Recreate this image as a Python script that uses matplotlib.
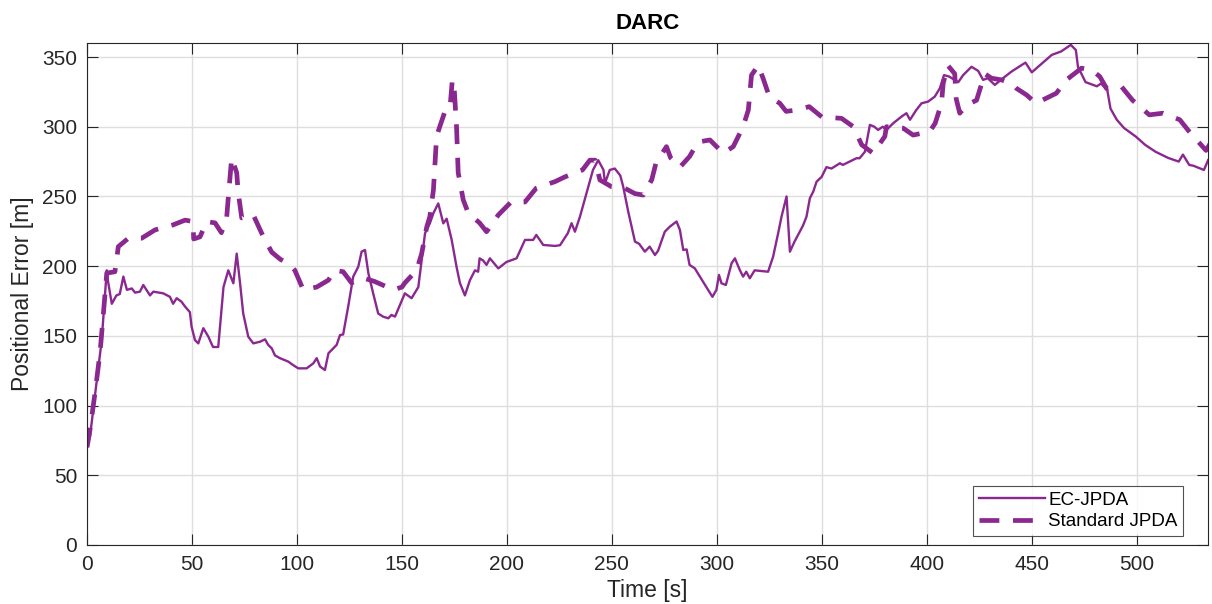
import matplotlib
matplotlib.use("Agg")
import matplotlib.pyplot as plt

# EC-JPDA positional error (time [s], error [m])
ec_time = [0, 1.4, 4, 7, 9.4, 9.9, 11.8, 14, 15.6, 17.3, 19, 21.3, 22.9, 25.2, 26.8, 30, 31.6,
           36.3, 39.5, 41, 42.7, 45, 46.7, 49, 49.8, 51.4, 53, 55.4, 57.8, 60, 62.5, 65, 67.3,
           69.7, 71.3, 72.9, 74.4, 76.8, 79.2, 82.4, 84.8, 86.3, 88, 89.5, 91.9, 95.9, 98.2,
           100.6, 104.6, 107.8, 109.4, 111, 113.3, 115, 117.3, 118.9, 120.5, 122, 124.4, 126.8,
           129.2, 130.8, 132.4, 134, 136.3, 138.7, 141, 143.5, 145, 146.7, 149, 151.4, 154.6,
           157.8, 159.4, 161, 163.3, 165, 167.3, 169.7, 171.3, 173.7, 176, 177.6, 180, 182.4,
           184.8, 186.3, 187, 188.7, 190.3, 191.9, 195.9, 199.8, 204.6, 208.6, 212.5, 214,
           217.3, 222.9, 225.3, 229, 230.8, 232.4, 234.8, 237.9, 241, 243.5, 246, 246.7, 249,
           251.4, 254, 255.4, 257.8, 261, 263, 265.7, 268, 270.5, 272, 275.2, 277.6, 280.8,
           282.4, 284, 285.6, 287, 289.5, 291.9, 295, 297.9, 299.8, 301, 302.2, 304.3, 307,
           308.6, 311, 312.5, 314, 315.7, 318, 324.4, 326.8, 329.2, 330.8, 333.2, 334.8, 337,
           339.5, 341, 342.7, 344.3, 345.9, 347.5, 349.9, 352.2, 354.6, 358.6, 360, 366.5, 368,
           370.5, 372.9, 375, 376.8, 379, 380.8, 384, 388, 390.3, 392, 395, 397.5, 400.6, 403.8,
           406.2, 408.2, 410.6, 415, 417.3, 421.3, 424.5, 426.8, 429, 432.4, 436.3, 440.3, 447,
           450, 459.5, 464, 468.6, 471, 472, 475.6, 481, 483, 486, 487.5, 490.5, 494, 499.5,
           504, 509, 515, 520, 522, 525, 527, 532, 534]
ec_err = [72, 77.7, 110, 147, 197, 190, 173, 179, 180, 192.5, 183, 184, 181, 181.7, 186.5, 179,
          181.7, 180.5, 178, 173, 177, 174.5, 171, 167, 156.6, 147, 144.6, 155.5, 149.4, 142, 142,
          185, 197, 187.7, 209, 187.7, 166, 149.4, 144.6, 145.8, 147.5, 143.5, 141, 136, 134,
          131.5, 129, 126.7, 126.7, 130.3, 134, 128, 125.5, 137.5, 141, 143.5, 150.6, 151, 171,
          192.5, 199.6, 210.4, 211.6, 195, 180.5, 166, 163.8, 162.6, 165, 163.8, 172, 180.5, 177,
          185, 204, 223.6, 230.7, 238, 245, 230.7, 234, 218.8, 199.6, 188, 179, 190, 197, 196,
          205.6, 204, 200.9, 205.6, 198.4, 203, 205.6, 218.8, 218.8, 222.4, 215.2, 214.5, 215,
          223.6, 230.8, 224.7, 235.5, 252.3, 269, 276, 269, 259.5, 269, 270, 265, 257, 239,
          217.6, 216, 210.4, 214, 208, 211, 224.7, 228.3, 232, 226, 211.6, 212, 200.9, 198.4,
          192.5, 185, 178, 183, 193.7, 187.7, 186.5, 202, 205.6, 197, 192.5, 196, 191.3, 197,
          196, 206.8, 223.6, 235.5, 250, 210.4, 217.6, 224.7, 229, 235.5, 248.7, 253.4, 260.6,
          264, 271, 270, 273.8, 272.6, 277.4, 277.4, 282, 301.3, 300, 297.7, 300, 297.7, 302.5,
          307.3, 309.7, 305, 312, 316.8, 318, 321.6, 327.5, 337, 336, 332, 337, 343, 340, 333.6,
          334.8, 330, 334.8, 339.5, 346, 339, 351.5, 354, 358.7, 355, 343, 332, 329, 331, 326,
          313, 305, 299, 293, 287, 282, 277.6, 275, 280, 272.6, 272, 269, 276]

# Standard JPDA positional error (time [s], error [m])
std_time = [0, 1.4, 3.8, 6.2, 7.8, 9.4, 13.3, 14.9, 19.7, 26, 32.4, 41, 46.7, 50.5, 50.8, 53.8,
            57, 61, 64, 66.5, 67.2, 68.9, 71.3, 72, 73.7, 79.2, 84, 88, 92, 96.7, 99, 103,
            109.4, 115, 118, 122, 126, 131.6, 137, 146, 150, 151.4, 157, 159.4, 161.8, 163.3,
            165, 166.5, 168, 170.5, 172.9, 174, 175, 176, 176.8, 179.2, 181.6, 187, 190.3,
            195.9, 202, 208.6, 214, 222.9, 227.6, 236, 239.5, 242, 244.3, 249.8, 256, 261, 265,
            269, 271, 276, 278, 282.4, 287, 291, 296.7, 303, 307.8, 312.5, 315, 316.5, 319.7,
            322, 325, 330, 333, 338, 344, 350, 359.4, 365, 369, 374.4, 380, 380.8, 388.7, 393.5,
            401.4, 404, 407, 407.8, 410, 413.3, 414, 415.7, 419, 423.7, 427.6, 430.8, 435.6,
            440.3, 442.7, 447.5, 452, 461.7, 466.5, 473.7, 478.4, 482.4, 485.6, 492.7, 498, 506,
            512.5, 520.5, 525, 533, 535]
std_err = [70, 82.5, 109, 138, 166, 195, 196, 214, 220, 220, 226, 229.6, 233, 232, 219.5, 221,
           232, 231, 224, 234.6, 247.5, 277.6, 267, 253, 234.6, 236.7, 221, 210, 205, 201, 197,
           183, 185, 190, 197, 196, 188, 191.5, 189, 183, 185, 188, 197, 209, 228, 235.5, 254.7,
           293, 300, 311, 313.5, 333.6, 325, 300, 267, 247.5, 238, 231, 224.7, 236.7, 246, 246,
           256, 260.6, 264, 269, 276, 276, 261.8, 257, 256, 252, 251, 262, 274, 285.7, 277.6,
           271, 278.6, 289, 290.5, 281, 285.7, 300, 312, 337, 344, 334.8, 321.6, 316.8, 311, 312,
           314.4, 307, 306, 300, 287, 281, 293, 300, 299, 294, 296.5, 302.5, 316.8, 331, 344,
           338, 320, 309.7, 315.6, 319, 338, 334.8, 333.6, 331, 327.5, 322.8, 316.8, 324, 333.6,
           342, 340.7, 336, 327.5, 328.8, 319, 308.5, 309.7, 305, 296.5, 283, 288]

x_ticks = [0, 50, 100, 150, 200, 250, 300, 350, 400, 450, 500]
y_ticks = [0, 50, 100, 150, 200, 250, 300, 350]

purple = "#8b2890"
axis_gray = "#262626"

plt.rcParams["font.family"] = ["Liberation Sans", "DejaVu Sans"]

fig = plt.figure(figsize=(12.12, 6.04), dpi=100)
ax = fig.add_axes([0.0718, 0.0977, 0.925, 0.831])

ax.plot(ec_time, ec_err, color=purple, lw=1.7, label="EC-JPDA")
ax.plot(std_time, std_err, color=purple, lw=3.4, linestyle=(0, (4.2, 2.9)),
        label="Standard JPDA")

ax.set_xlim(0, 534)
ax.set_ylim(0, 360)
ax.set_xticks(x_ticks)
ax.set_yticks(y_ticks)

ax.grid(True, color="#dedede", lw=1.0)
ax.set_axisbelow(True)
ax.tick_params(direction="in", length=8, width=0.8, colors=axis_gray,
               labelsize=15, top=True, right=True, pad=7)
for s in ax.spines.values():
    s.set_color(axis_gray)
    s.set_linewidth(0.8)

ax.set_xlabel("Time [s]", fontsize=16.5, color=axis_gray, labelpad=4)
ax.set_ylabel("Positional Error [m]", fontsize=16.5, color=axis_gray, labelpad=6)
ax.set_title("DARC", fontsize=16, fontweight="bold", pad=10)

leg = ax.legend(loc="lower right", bbox_to_anchor=(0.978, 0.018), fontsize=13.5,
                frameon=True, fancybox=False, handlelength=3.5, borderpad=0.3,
                labelspacing=0.25, handletextpad=0.2, borderaxespad=0)
leg.get_frame().set_edgecolor(axis_gray)
leg.get_frame().set_linewidth(0.8)

fig.savefig("out.png", dpi=100)
